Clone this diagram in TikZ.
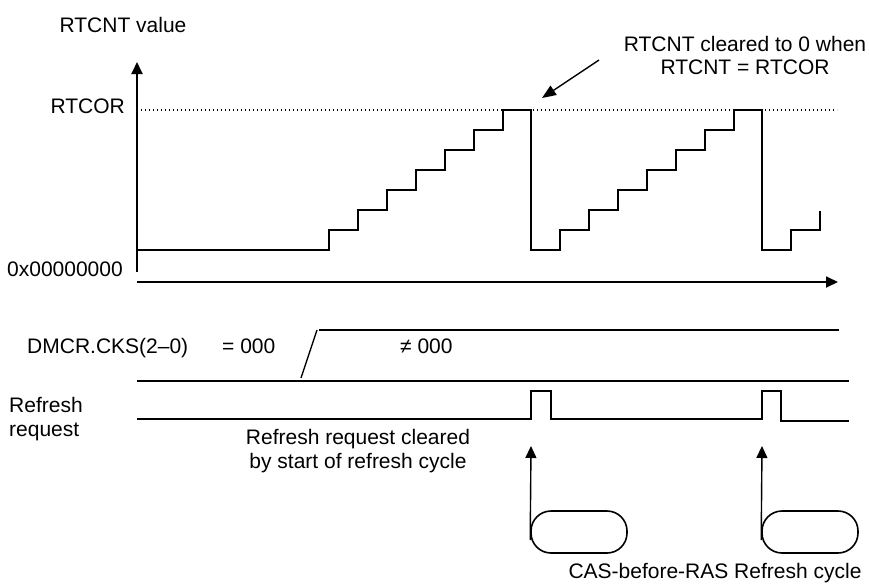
\documentclass[tikz,border=0pt]{standalone}
\usepackage{fontspec}
\setmainfont{Liberation Sans}
\usetikzlibrary{arrows.meta}
\begin{document}
\begin{tikzpicture}[x=1pt,y=-1pt,
  lbl/.style={inner sep=0pt, font=\fontsize{21}{24}\selectfont},
  thick line/.style={line width=1.8pt},
  sig line/.style={line width=1.4pt},
  tip/.style={-{Triangle[length=12pt,width=11pt]}},
  cycbox/.style={draw, line width=1.6pt, rounded corners=20pt, minimum width=96pt, minimum height=42pt, inner sep=0pt},
  refdot/.style={line width=1.2pt, dash pattern={on 1.3pt off 2.7pt}}]
\useasboundingbox (0,0) rectangle (869,584);

% labels
\node[lbl, anchor=base] (ylab) at (123,32) {RTCNT value};
\node[lbl, anchor=base east] (rtcor) at (125,113) {RTCOR};
\node[lbl, anchor=base east] (zero) at (123,276) {0x00000000};
\node[lbl, anchor=base] (note1) at (745,51) {RTCNT cleared to 0 when};
\node[lbl, anchor=base] (note2) at (745,74) {RTCNT = RTCOR};
\node[lbl, anchor=base west] (dmcr) at (27,353) {DMCR.CKS(2–0)};
\node[lbl, anchor=base west] (eq) at (222,353) {= 000};
\node[lbl, anchor=base west] (ne) at (400,353) {≠ 000};
\node[lbl, anchor=base west] (rr1) at (9,412) {Refresh};
\node[lbl, anchor=base west] (rr2) at (9,436) {request};
\node[lbl, anchor=base] (clr1) at (358,444) {Refresh request cleared};
\node[lbl, anchor=base] (clr2) at (358,468) {by start of refresh cycle};
\node[lbl, anchor=base] (cas) at (715,578) {CAS-before-RAS Refresh cycle};

% axes
\coordinate (yb) at (137,272);
\coordinate (yt) at (137,62);
\coordinate (xl) at (137,282);
\coordinate (xr) at (838,282);
\draw[thick line, tip] (yb) -- (yt);
\draw[thick line, tip] (xl) -- (xr);

% RTCOR level
\coordinate (dl) at (137,110);
\coordinate (dr) at (837,110);
\draw[refdot] (dl) -- (dr);

% RTCNT staircase
\draw[thick line] (137,250) -- (329,250)
  -- (329,230) -- (358,230) -- (358,210) -- (387,210) -- (387,190) -- (416,190)
  -- (416,170) -- (445,170) -- (445,150) -- (474,150) -- (474,130) -- (503,130)
  -- (503,110) -- (531,110) -- (531,250) -- (560,250)
  -- (560,230) -- (589,230) -- (589,210) -- (618,210) -- (618,190) -- (647,190)
  -- (647,170) -- (676,170) -- (676,150) -- (705,150) -- (705,130) -- (734,130)
  -- (734,110) -- (762,110) -- (762,250) -- (791,250)
  -- (791,230) -- (820,230) -- (820,211);

% annotation arrow
\coordinate (na) at (599,60);
\coordinate (nb) at (542,98);
\draw[sig line, -{Triangle[length=14pt,width=11pt]}] (na) -- (nb);

% DMCR.CKS
\draw[sig line] (301,378) -- (317,330);
\draw[sig line] (319,330) -- (839,330);
\draw[sig line] (137,381) -- (849,381);

% Refresh request
\draw[sig line] (137,419) -- (531,419) -- (531,391) -- (551,391) -- (551,419)
  -- (762,419) -- (762,391) -- (781,391) -- (781,421) -- (849,421);

% refresh cycles
\node[cycbox] (cyc1) at (579,532) {};
\node[cycbox] (cyc2) at (810,532) {};
\coordinate (up1) at (531,446);
\coordinate (up2) at (762,446);
\draw[sig line, tip] ([yshift=-8pt]cyc1.west) -- (up1);
\draw[sig line, tip] ([yshift=-8pt]cyc2.west) -- (up2);
\end{tikzpicture}
\end{document}
